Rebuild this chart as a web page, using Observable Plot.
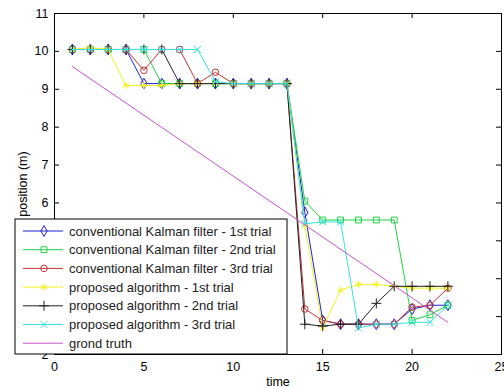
<!DOCTYPE html>
<html>
<head>
<meta charset="utf-8">
<script src="https://cdn.jsdelivr.net/npm/d3@7"></script>
<script src="https://cdn.jsdelivr.net/npm/@observablehq/plot@0.6"></script>
<style>
  html, body { margin: 0; padding: 0; background: white; }
</style>
</head>
<body>
<div id="chart"></div>
<script>
const time = [1,2,3,4,5,6,7,8,9,10,11,12,13,14,15,16,17,18,19,20,21,22];

const kf1 = [10.05,10.05,10.05,10.05,9.15,9.15,9.15,9.15,9.15,9.15,9.15,9.15,9.15,5.75,2.9,2.8,2.8,2.8,2.8,3.2,3.3,3.3];
const kf2 = [10.05,10.05,10.05,10.05,10.05,9.15,9.15,9.15,9.15,9.15,9.15,9.15,9.15,6.05,5.55,5.55,5.55,5.55,5.55,2.9,3.05,3.3];
const kf3 = [10.05,10.05,10.05,10.05,9.5,10.05,10.05,9.15,9.45,9.15,9.15,9.15,9.15,3.2,2.9,2.8,2.8,2.8,2.8,3.25,3.3,3.75];
const pa1 = [10.05,10.1,10.05,9.1,9.1,9.1,9.15,9.15,9.15,9.15,9.15,9.15,9.15,5.4,2.7,3.7,3.85,3.85,3.8,3.75,3.75,3.75];
const pa2 = [10.05,10.05,10.05,10.05,10.05,10.05,9.15,9.15,9.15,9.15,9.15,9.15,9.15,2.8,2.75,2.8,2.8,3.35,3.8,3.8,3.8,3.8];
const pa3 = [10.05,10.05,10.05,10.05,10.05,10.05,10.05,10.05,9.2,9.15,9.15,9.15,9.15,5.45,5.5,5.5,2.7,2.8,2.8,2.85,2.85,3.3];
const truthTime = [1, 22];
const truthPos = [9.6, 2.85];

const seriesNames = [
  "conventional Kalman filter - 1st trial",
  "conventional Kalman filter - 2nd trial",
  "conventional Kalman filter - 3rd trial",
  "proposed algorithm - 1st trial",
  "proposed algorithm - 2nd trial",
  "proposed algorithm - 3rd trial",
  "grond truth"
];
const seriesValues = [kf1, kf2, kf3, pa1, pa2, pa3];
const colors = ["#1f1fd6", "#22d044", "#c83434", "#f2f21c", "#222222", "#33e3e3", "#c653cf"];
const symbols = ["diamond", "square", "circle", "asterisk", "plus", "times", null];
const d3Symbols = {diamond: d3.symbolDiamond, square: d3.symbolSquare, circle: d3.symbolCircle,
                   asterisk: d3.symbolAsterisk, plus: d3.symbolPlus, times: d3.symbolTimes};

const xTicks = [0, 5, 10, 15, 20, 25];
const yTicks = [2, 3, 4, 5, 6, 7, 8, 9, 10, 11];

const W = 504, H = 388;
const mL = 54, mR = 3, mT = 13, mB = 34;
const pw = W - mL - mR, ph = H - mT - mB;
const R = 3.3;

const marks = [];
seriesValues.forEach((vals, i) => {
  const data = time.map((t, j) => ({t, v: vals[j]}));
  marks.push(Plot.line(data, {x: "t", y: "v", stroke: colors[i], strokeWidth: 1}));
  marks.push(Plot.dot(data, {x: "t", y: "v", stroke: colors[i], fill: "none", symbol: symbols[i], r: R, strokeWidth: 1}));
});
const truth = truthTime.map((t, j) => ({t, v: truthPos[j]}));
marks.push(Plot.line(truth, {x: "t", y: "v", stroke: colors[6], strokeWidth: 1}));

// axes & ticks (inward, box)
marks.push(Plot.frame({stroke: "black", strokeWidth: 1}));
marks.push(Plot.tickX(xTicks, {x: d => d, stroke: "black", insetTop: ph - 5}));
marks.push(Plot.tickX(xTicks, {x: d => d, stroke: "black", insetBottom: ph - 5}));
marks.push(Plot.tickY(yTicks, {y: d => d, stroke: "black", insetRight: pw - 5}));
marks.push(Plot.tickY(yTicks, {y: d => d, stroke: "black", insetLeft: pw - 5}));
marks.push(Plot.axisX(xTicks, {tickSize: 0, tickPadding: 8, fontSize: 12.5, label: "time", labelAnchor: "center", labelArrow: "none", labelOffset: 31}));
marks.push(Plot.axisY(yTicks, {tickSize: 0, tickPadding: 6, fontSize: 12.5, label: "position (m)", labelAnchor: "center", labelArrow: "none", labelOffset: 36}));

const plot = Plot.plot({
  width: W, height: H,
  marginLeft: mL, marginRight: mR, marginTop: mT, marginBottom: mB,
  x: {domain: [0, 25]},
  y: {domain: [2, 11]},
  style: {fontFamily: "'Liberation Sans', Arial, sans-serif", fontSize: "12.5px", background: "white", color: "black"},
  marks
});
document.getElementById("chart").appendChild(plot);

// legend box
const svg = d3.select(plot);
const lg = svg.append("g")
  .attr("font-family", "'Liberation Sans', Arial, sans-serif")
  .attr("font-size", 13)
  .attr("text-anchor", "start");
const bx = 15, by = 219, bw = 272, bh = 135;
lg.append("rect").attr("x", bx).attr("y", by).attr("width", bw).attr("height", bh)
  .attr("fill", "white").attr("stroke", "black").attr("stroke-width", 1);
seriesNames.forEach((name, i) => {
  const yy = by + 12 + i * 18.7;
  lg.append("line").attr("x1", bx + 8).attr("x2", bx + 48).attr("y1", yy).attr("y2", yy)
    .attr("stroke", colors[i]).attr("stroke-width", 1);
  if (symbols[i]) {
    lg.append("path").attr("d", d3.symbol(d3Symbols[symbols[i]], Math.PI * R * R)())
      .attr("transform", `translate(${bx + 29},${yy})`)
      .attr("fill", "none").attr("stroke", colors[i]).attr("stroke-width", 1);
  }
  lg.append("text").attr("x", bx + 54).attr("y", yy).attr("dy", "0.35em")
    .attr("text-anchor", "start").attr("fill", "#222").text(name);
});
</script>
</body>
</html>
